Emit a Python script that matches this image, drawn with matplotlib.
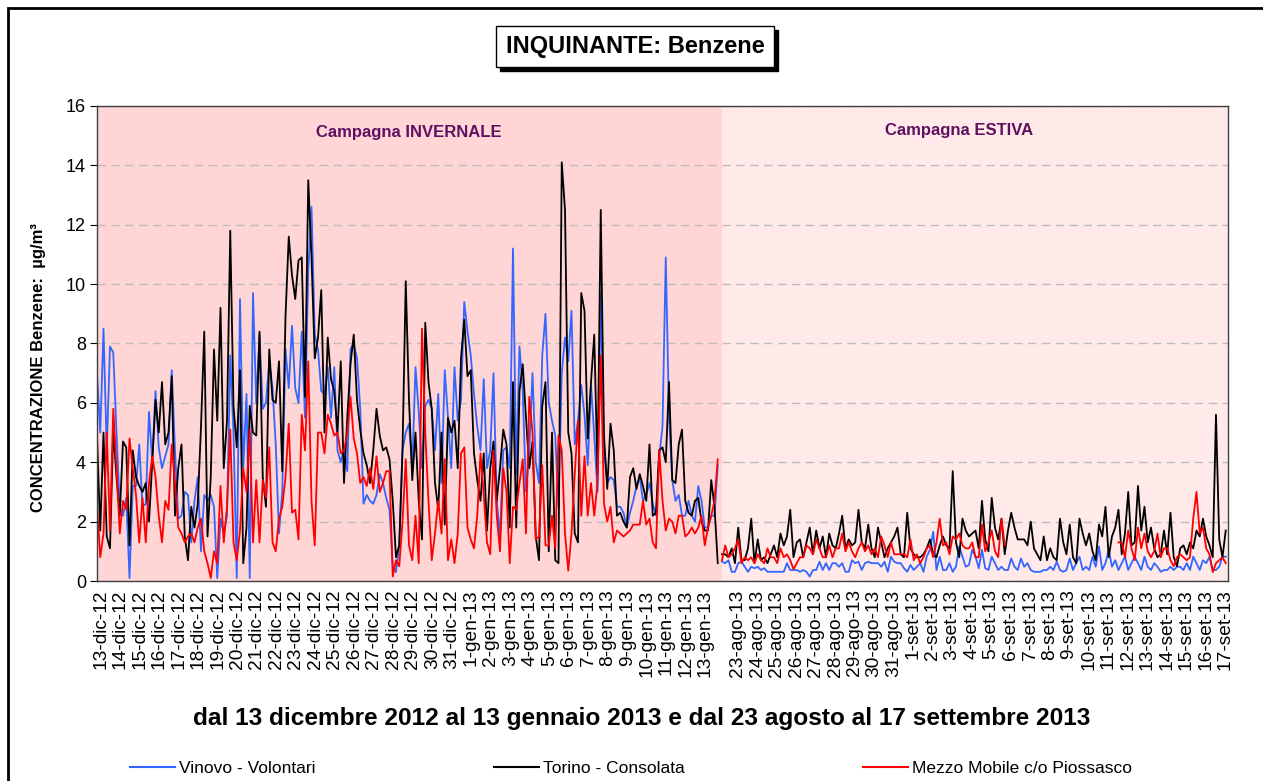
import numpy as np
import matplotlib
matplotlib.use('Agg')
import matplotlib.pyplot as plt
from matplotlib.lines import Line2D
from matplotlib.patches import Rectangle

plt.rcParams['font.family'] = ['Liberation Sans', 'DejaVu Sans']

# 4-hour samples (6 per day)
PER_DAY = 6

# --- Campagna invernale: 13-dic-12 .. 13-gen-13 ---
winter_vinovo = [
    7.0, 5.0, 8.5, 4.4, 7.9, 7.7,   5.0, 2.5, 2.2, 2.8, 0.1, 3.2,   3.2, 4.6, 2.5, 2.6, 5.7, 4.0,
    6.4, 4.5, 3.8, 4.2, 4.6, 7.1,   4.4, 2.1, 2.2, 3.0, 2.9, 1.3,   2.7, 3.5, 1.0, 2.9, 2.7, 2.9,
    2.5, 0.1, 2.1, 1.6, 2.2, 7.6,   5.0, 0.1, 9.5, 3.8, 6.3, 0.1,   9.7, 6.0, 8.3, 5.8, 6.0, 7.4,
    6.5, 4.6, 1.6, 3.0, 7.8, 6.5,   8.6, 6.5, 6.0, 8.4, 5.5, 10.4,  12.6, 8.3, 7.8, 6.4, 6.3, 7.2,
    5.5, 7.2, 4.4, 4.0, 4.5, 3.7,   7.8, 8.0, 7.5, 5.8, 2.6, 2.9,   2.7, 2.6, 2.9, 3.6, 3.3, 2.8,
    2.4, 0.5, 0.3, 1.2, 4.4, 5.0,   5.3, 3.8, 7.2, 5.7, 3.8, 5.9,   6.1, 5.8, 4.4, 6.3, 3.3, 7.1,
    5.5, 3.8, 7.2, 5.4, 6.1, 9.4,   8.4, 7.6, 6.3, 5.2, 4.4, 6.8,   3.8, 4.4, 7.0, 2.7, 1.5, 4.4,
    4.5, 3.8, 11.2, 3.6, 7.9, 6.4,  3.0, 4.4, 7.0, 4.0, 3.3, 7.6,   9.0, 6.0, 5.4, 4.9, 2.5, 7.0,
    8.2, 7.4, 9.1, 4.6, 5.4, 6.6,   5.6, 3.9, 6.6, 4.9, 3.0, 9.7,   4.4, 3.3, 3.5, 3.4, 2.5, 2.5,
    2.3, 1.8, 2.3, 2.7, 3.2, 3.5,   2.7, 2.9, 3.3, 2.6, 2.2, 4.2,   5.2, 10.9, 5.6, 3.4, 2.7, 2.9,
    2.2, 2.2, 2.7, 2.2, 2.0, 3.2,   2.7, 1.8, 1.8, 2.2, 2.2, 3.9,
]
winter_torino = [
    4.9, 1.7, 5.0, 1.5, 1.1, 5.1,   3.5, 2.2, 4.7, 4.5, 1.2, 4.4,   3.5, 3.2, 3.0, 3.3, 2.0, 4.0,
    6.1, 5.0, 6.7, 4.6, 5.0, 6.9,   2.2, 3.8, 4.6, 1.5, 0.7, 2.5,   1.8, 2.6, 5.2, 8.4, 1.5, 3.5,
    7.8, 5.4, 9.2, 3.8, 5.4, 11.8,  5.9, 4.5, 7.1, 0.6, 1.8, 5.9,   5.0, 4.9, 8.4, 3.5, 2.5, 7.8,
    6.1, 6.0, 7.4, 3.7, 8.9, 11.6,  10.3, 9.5, 10.8, 10.9, 6.2, 13.5, 10.9, 7.5, 8.2, 9.8, 5.0, 8.2,
    6.8, 6.4, 5.0, 7.4, 3.3, 5.5,   7.3, 8.3, 6.1, 5.1, 4.3, 3.9,   3.3, 4.4, 5.8, 4.9, 4.4, 4.5,
    4.1, 2.7, 0.8, 1.2, 4.4, 10.1,  6.1, 3.4, 5.0, 2.7, 1.4, 8.7,   6.7, 5.8, 3.3, 2.4, 5.0, 1.9,
    5.5, 5.0, 5.4, 3.8, 7.5, 8.8,   6.9, 7.1, 4.3, 3.4, 2.7, 4.3,   1.7, 3.8, 4.7, 2.7, 3.8, 5.1,
    4.6, 1.8, 6.7, 1.8, 6.4, 7.3,   5.5, 3.8, 4.7, 1.5, 0.7, 5.9,   6.7, 1.0, 5.0, 0.7, 0.6, 14.1,
    12.5, 5.0, 4.3, 1.6, 1.3, 9.7,  9.1, 4.8, 6.7, 8.3, 3.6, 12.5,  4.9, 3.1, 5.3, 4.4, 2.2, 2.3,
    2.0, 1.8, 3.5, 3.8, 3.1, 3.6,   3.2, 2.7, 4.6, 2.2, 2.3, 4.4,   4.5, 4.0, 6.7, 3.4, 3.3, 4.6,
    5.1, 2.7, 2.3, 2.2, 2.7, 2.8,   2.0, 1.7, 1.7, 3.4, 2.5, 0.6,
]
winter_piossasco = [
    2.6, 0.8, 1.6, 5.0, 1.7, 5.8,   3.8, 1.6, 2.7, 2.4, 4.8, 3.8,   2.9, 1.3, 2.8, 1.3, 3.3, 4.2,
    3.5, 2.2, 1.3, 2.7, 2.4, 4.6,   3.3, 1.8, 1.6, 1.3, 1.5, 1.6,   1.3, 1.8, 2.1, 1.0, 0.6, 0.1,
    1.0, 0.6, 3.2, 1.3, 2.5, 5.1,   1.3, 0.7, 1.7, 3.8, 3.0, 5.1,   1.3, 3.4, 1.3, 3.4, 2.8, 4.5,
    1.3, 1.0, 2.1, 2.5, 3.5, 5.3,   2.3, 2.4, 1.4, 5.6, 4.4, 7.4,   2.7, 1.2, 5.0, 5.0, 4.3, 5.6,
    5.3, 4.9, 5.0, 4.3, 4.4, 5.0,   6.2, 4.8, 4.3, 3.3, 3.5, 3.2,   3.8, 3.1, 4.2, 3.0, 3.3, 3.7,
    3.7, 0.15, 0.7, 0.5, 2.0, 4.1,  1.2, 0.7, 2.2, 0.6, 8.5, 5.0,   2.7, 0.7, 1.6, 2.7, 1.6, 4.1,
    0.7, 1.4, 0.6, 1.6, 4.3, 4.5,   1.8, 1.4, 1.1, 2.2, 4.3, 2.9,   1.3, 0.9, 4.4, 2.2, 1.0, 3.8,
    3.0, 0.6, 2.5, 2.4, 3.3, 4.1,   1.6, 6.2, 5.0, 1.4, 1.5, 3.9,   1.2, 1.2, 2.2, 1.1, 4.9, 4.4,
    1.6, 0.35, 1.6, 3.6, 5.4, 2.2,  4.2, 2.2, 3.3, 2.2, 3.3, 7.6,   2.6, 2.0, 2.5, 1.3, 1.7, 1.6,
    1.5, 1.6, 1.7, 1.9, 1.9, 1.9,   2.7, 1.9, 2.1, 1.3, 1.1, 4.4,   2.7, 1.7, 2.1, 2.0, 1.6, 2.2,
    2.2, 1.5, 1.6, 1.8, 1.6, 1.8,   2.2, 1.2, 1.8, 2.2, 2.7, 4.1,
]

# --- Campagna estiva: 23-ago-13 .. 17-set-13 ---
summer_vinovo = [
    0.65, 0.6, 0.7, 0.31, 0.31, 0.6, 0.65, 0.48, 0.31, 0.48,
    0.43, 0.48, 0.37, 0.43, 0.31, 0.31, 0.31, 0.31, 0.31, 0.31,
    0.6, 0.37, 0.37, 0.37, 0.31, 0.37, 0.31, 0.15, 0.37, 0.37,
    0.65, 0.37, 0.6, 0.37, 0.6, 0.6, 0.48, 0.6, 0.31, 0.31,
    0.7, 0.6, 0.65, 0.37, 0.6, 0.65, 0.6, 0.6, 0.6, 0.48,
    0.65, 0.31, 0.82, 0.65, 0.6, 0.6, 0.43, 0.31, 0.54, 0.37,
    0.48, 0.6, 0.31, 0.82, 1.05, 1.66, 0.37, 0.82, 0.37, 0.37,
    0.6, 0.31, 0.48, 1.16, 0.82, 0.48, 0.54, 1.05, 0.82, 0.43,
    1.05, 0.43, 0.37, 0.82, 0.6, 0.37, 0.48, 0.37, 0.37, 0.76,
    0.48, 0.37, 0.76, 0.48, 0.6, 0.37, 0.31, 0.31, 0.31, 0.37,
    0.37, 0.48, 0.37, 0.65, 0.37, 0.31, 0.37, 0.76, 0.37, 0.6,
    0.82, 0.37, 0.48, 0.37, 0.82, 0.48, 1.16, 0.37, 0.6, 1.05,
    0.48, 0.7, 0.37, 0.6, 0.82, 0.37, 0.6, 0.82, 0.6, 0.37,
    0.82, 0.48, 0.37, 0.6, 0.48, 0.31, 0.37, 0.37, 0.48, 0.37,
    0.48, 0.48, 0.37, 0.6, 0.37, 0.82, 0.6, 0.37, 0.7, 0.6,
    0.82, 0.37, 0.37, 0.48, 0.82, 0.82,
]
summer_torino = [
    0.9, 0.9, 0.8, 1.1, 0.6, 1.8, 0.7, 0.7, 1.1, 2.1,
    0.6, 1.4, 0.7, 0.8, 0.6, 0.9, 1.2, 0.8, 1.6, 1.2,
    1.5, 2.4, 0.8, 1.3, 1.4, 0.8, 1.3, 1.8, 0.9, 1.7,
    1.1, 1.5, 0.8, 1.6, 1.2, 1.1, 1.6, 2.2, 1.1, 1.4,
    1.2, 1.3, 2.4, 1.3, 1.1, 1.9, 1.1, 0.8, 1.8, 1.3,
    0.8, 1.1, 1.3, 1.5, 1.8, 0.9, 0.8, 2.3, 1.1, 0.9,
    0.8, 0.8, 0.9, 1.1, 1.4, 0.9, 0.8, 1.2, 1.5, 1.2,
    1.1, 3.7, 1.3, 0.8, 2.1, 1.7, 1.5, 1.6, 1.7, 1.1,
    2.7, 1.4, 1.0, 2.8, 1.8, 1.4, 2.1, 0.9, 1.7, 2.3,
    1.8, 1.4, 1.4, 1.4, 1.2, 2.0, 1.1, 0.9, 0.7, 1.5,
    0.7, 1.1, 0.8, 0.7, 2.1, 1.3, 0.9, 1.9, 0.8, 0.6,
    2.1, 1.6, 1.2, 1.6, 1.0, 0.7, 1.9, 1.5, 2.5, 0.8,
    1.5, 1.8, 2.4, 0.9, 1.6, 3.0, 1.2, 1.3, 3.2, 1.7,
    2.5, 1.3, 1.8, 1.1, 0.8, 0.9, 1.7, 0.9, 2.3, 0.8,
    0.5, 1.1, 1.2, 0.9, 1.3, 1.1, 1.7, 1.5, 2.1, 1.5,
    1.2, 0.8, 5.6, 1.4, 0.8, 1.7,
]
nan = np.nan
summer_piossasco = [
    0.7, 1.2, 0.8, 0.9, 1.1, 1.4, 0.6, 0.8, 0.7, 0.8,
    0.6, 0.9, 0.7, 0.6, 1.1, 0.8, 0.8, 0.6, 1.1, 0.8,
    0.9, 0.7, 0.4, 0.6, 0.8, 0.8, 1.2, 1.1, 0.9, 1.4,
    1.1, 0.8, 0.8, 1.2, 0.8, 1.1, 1.1, 1.6, 1.0, 1.3,
    1.0, 0.8, 1.1, 1.3, 1.0, 1.2, 0.9, 1.1, 0.8, 1.5,
    1.2, 0.8, 1.3, 0.9, 0.9, 0.9, 0.9, 0.8, 1.4, 0.7,
    0.9, 0.6, 0.8, 1.1, 1.2, 0.8, 1.3, 2.1, 1.2, 1.3,
    0.9, 1.5, 1.4, 1.6, 1.2, 1.1, 1.1, 1.3, 0.8, 0.8,
    1.9, 1.0, 1.3, 1.7, 1.0, 0.8, 2.1, 1.2, nan, nan,
    nan, nan, nan, nan, nan, nan, nan, nan, nan, nan,
    nan, nan, nan, nan, nan, nan, nan, nan, nan, nan,
    nan, nan, nan, nan, nan, nan, nan, nan, nan, nan,
    nan, nan, 1.3, 1.3, 0.8, 1.7, 1.1, 0.7, 1.8, 1.1,
    1.6, 1.0, 0.8, 1.0, 1.6, 0.8, 1.1, 1.1, 0.7, 0.5,
    0.8, 0.9, 0.8, 0.7, 0.8, 2.1, 3.0, 1.6, 1.8, 1.1,
    0.9, 0.3, 0.6, 0.7, 0.8, 0.6,
]

winter_days = [f'{d}-dic-12' for d in range(13, 32)] + [f'{d}-gen-13' for d in range(1, 14)]
summer_days = [f'{d}-ago-13' for d in range(23, 32)] + [f'{d}-set-13' for d in range(1, 18)]

SERIES = [
    ('Vinovo - Volontari', '#3366FF', winter_vinovo, summer_vinovo),
    ('Torino - Consolata', '#000000', winter_torino, summer_torino),
    ('Mezzo Mobile c/o Piossasco', '#FF0000', winter_piossasco, summer_piossasco),
]

# axis layout (in days along a compressed axis)
SUMMER_START = 32.05
X_END = 58.0
WINTER_COLOR = '#FFD5D5'
SUMMER_COLOR = '#FFE9E9'


def main():
    fig = plt.figure(figsize=(12.63, 7.81), dpi=100)
    ax = fig.add_axes([97 / 1263, 1 - 581 / 781, (1228 - 97) / 1263, (581 - 106) / 781])

    x_w = np.arange(len(winter_torino)) / PER_DAY
    x_s = SUMMER_START + np.arange(len(summer_torino)) / PER_DAY

    ax.set_facecolor(SUMMER_COLOR)
    ax.axvspan(0, SUMMER_START, color=WINTER_COLOR, lw=0, zorder=0)
    ax.set_axisbelow(True)

    handles = []
    for name, color, w, s in SERIES:
        ax.plot(x_w, w, color=color, lw=1.3)
        ax.plot(x_s, s, color=color, lw=1.3)
        handles.append(Line2D([], [], color=color, lw=1.5, label=name))

    ax.set_xlim(0, X_END)
    ax.set_ylim(0, 16)
    ax.set_yticks(np.arange(0, 17, 2))
    ax.yaxis.grid(True, color='#BDBDBD', lw=1, ls=(0, (6, 4)))

    tick_pos = list(np.arange(len(winter_days)) + 0.2) + list(32.85 + np.arange(len(summer_days)))
    ax.set_xticks(tick_pos)
    ax.set_xticklabels(winter_days + summer_days, rotation=90, fontsize=13.8)
    ax.tick_params(axis='x', length=0, pad=6)
    ax.tick_params(axis='y', labelsize=13, length=5, direction='out', pad=3)
    for sp in ax.spines.values():
        sp.set_color('#404040')
        sp.set_linewidth(1)

    ax.set_ylabel('CONCENTRAZIONE Benzene:  µg/m³', fontsize=12, fontweight='bold')
    ax.yaxis.set_label_coords(-0.045, 0.45)

    ax.text(0.276, 0.945, 'Campagna INVERNALE', transform=ax.transAxes, ha='center', va='center',
            fontsize=12, fontweight='bold', color='#5E1060')
    ax.text(0.762, 0.948, 'Campagna ESTIVA', transform=ax.transAxes, ha='center', va='center',
            fontsize=12, fontweight='bold', color='#5E1060')

    # title box, shadow drawn as a patch behind it
    title = fig.text(0.503, 0.9405, 'INQUINANTE: Benzene', ha='center', va='center',
                     fontsize=17, fontweight='bold', color='black',
                     bbox=dict(boxstyle='square,pad=0.4', fc='white', ec='black', lw=1))

    fig.text(0.508, 1 - 718 / 781, 'dal 13 dicembre 2012 al 13 gennaio 2013 e dal 23 agosto al 17 settembre 2013',
             ha='center', va='center', fontsize=17.6, fontweight='bold')

    fig.legend(handles=handles, loc='center', bbox_to_anchor=(0.4996, 1 - 768 / 781), ncol=3,
               frameon=False, fontsize=12.5, handlelength=2.6, handletextpad=0.2,
               columnspacing=10.3, borderaxespad=0)

    # outer chart frame
    fig.add_artist(Rectangle((8 / 1263, -0.05), 1.1, 1 - 8 / 781 + 0.05, transform=fig.transFigure,
                             fill=False, ec='black', lw=2, clip_on=False, zorder=1))

    fig.canvas.draw()
    bb = title.get_bbox_patch().get_window_extent(fig.canvas.get_renderer())
    inv = fig.transFigure.inverted()
    (x0, y0), (x1, y1) = inv.transform([(bb.x0 + 4, bb.y0 - 4), (bb.x1 + 4, bb.y1 - 4)])
    fig.add_artist(Rectangle((x0, y0), x1 - x0, y1 - y0, transform=fig.transFigure,
                             fc='black', ec='black', zorder=2))

    fig.savefig('out.png', dpi=100)


if __name__ == '__main__':
    main()
